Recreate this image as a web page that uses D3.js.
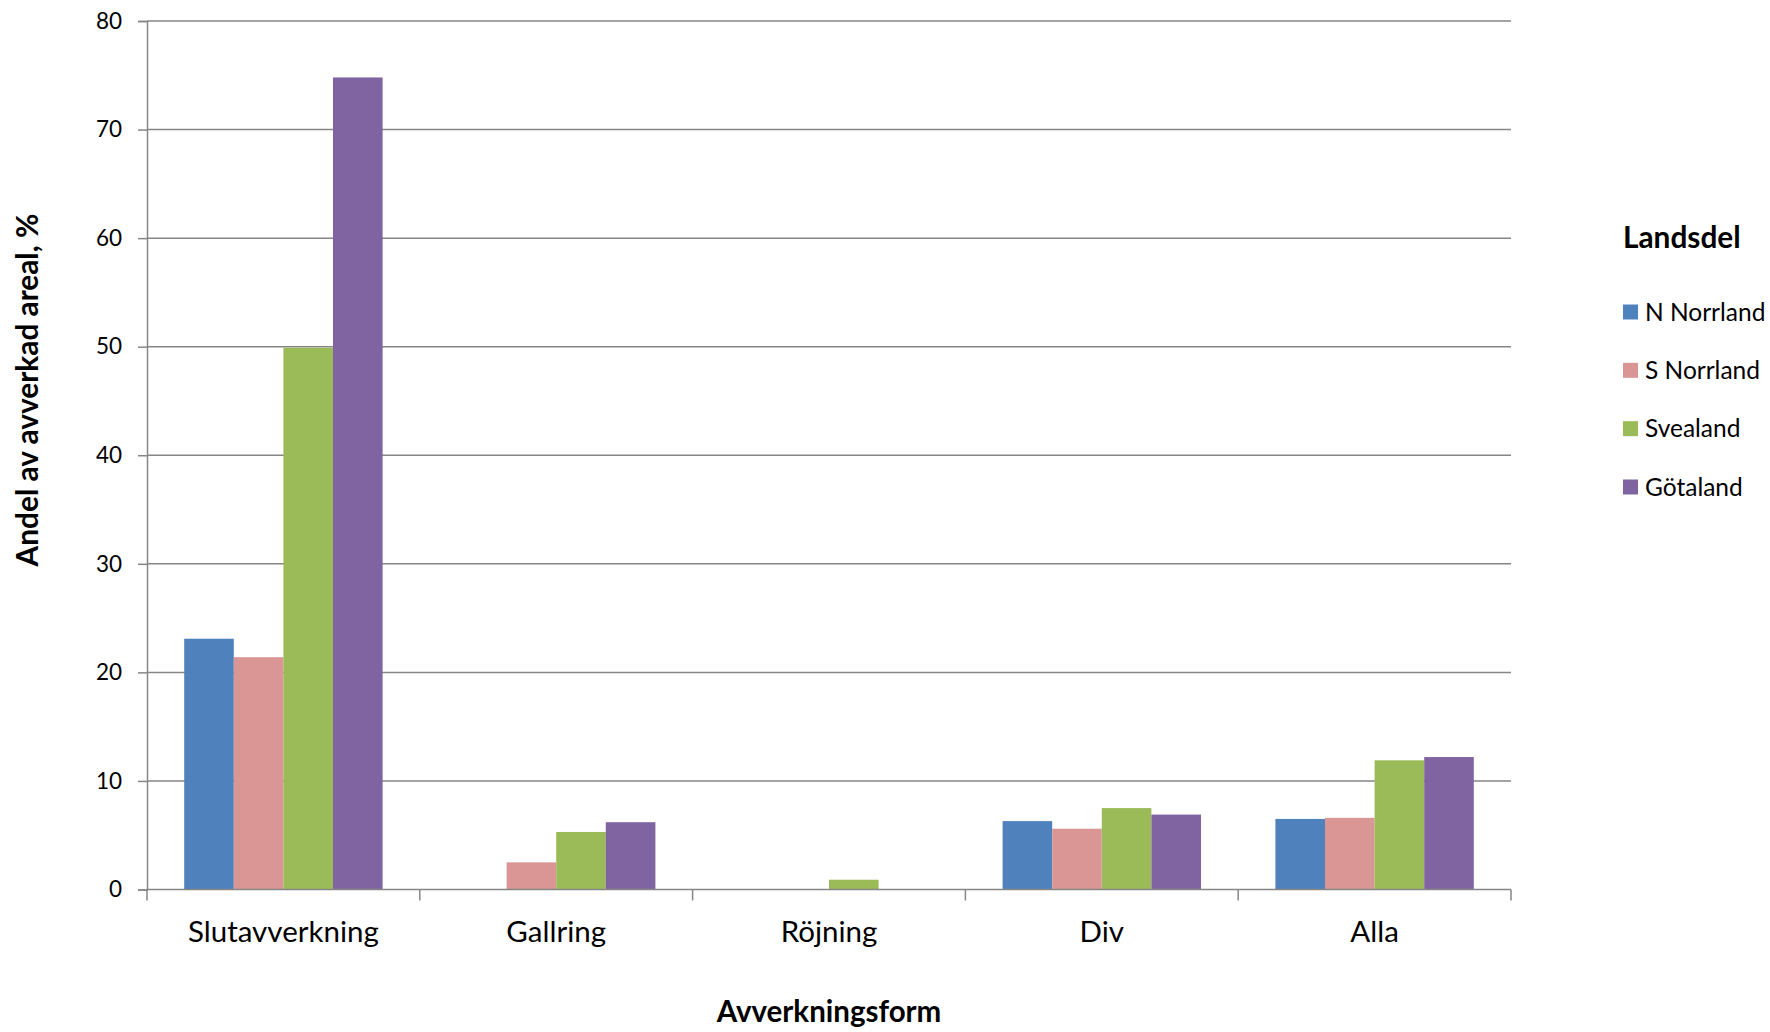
<!DOCTYPE html>
<html>
<head>
<meta charset="utf-8">
<script src="https://cdn.jsdelivr.net/npm/d3@7"></script>
<style>
  html, body { margin: 0; padding: 0; background: #fff; }
  svg { display: block; font-family: Lato, "Open Sans", sans-serif; }
</style>
</head>
<body>
<svg id="chart" width="1770" height="1032"></svg>
<script>
const categories = ["Slutavverkning", "Gallring", "Röjning", "Div", "Alla"];
const seriesNames = ["N Norrland", "S Norrland", "Svealand", "Götaland"];
const nNorrland = [23.1, 0, 0, 6.3, 6.5];
const sNorrland = [21.4, 2.5, 0, 5.6, 6.6];
const svealand  = [49.9, 5.3, 0.9, 7.5, 11.9];
const gotaland  = [74.8, 6.2, 0, 6.9, 12.2];
const yTicks = [0, 10, 20, 30, 40, 50, 60, 70, 80];
const colors = ["#4F81BD", "#D99694", "#9BBB59", "#8064A2"];
const xTitle = "Avverkningsform";
const yTitle = "Andel av avverkad areal, %";
const legendTitle = "Landsdel";

const seriesValues = [nNorrland, sNorrland, svealand, gotaland];

const svg = d3.select("#chart");
const mLeft = 147, mRight = 1511, mTop = 21, mBottom = 889.5;
const axisColor = "#868686";

const x0 = d3.scaleBand().domain(categories).range([mLeft, mRight]).padding(0);
const x1 = d3.scaleBand().domain(seriesNames).range([0, x0.bandwidth()]).paddingInner(0).paddingOuter(0.75);
const y = d3.scaleLinear().domain([0, 80]).range([mBottom, mTop]);

// gridlines
svg.append("g").selectAll("line").data(yTicks.filter(d => d > 0)).join("line")
  .attr("x1", mLeft).attr("x2", mRight)
  .attr("y1", d => y(d)).attr("y2", d => y(d))
  .attr("stroke", axisColor).attr("stroke-width", 1.5);

// bars
const groups = svg.append("g").selectAll("g").data(categories).join("g")
  .attr("transform", d => `translate(${x0(d)},0)`);
groups.selectAll("rect")
  .data((c, i) => seriesNames.map((s, j) => ({ s, j, v: seriesValues[j][i] })).filter(d => d.v > 0))
  .join("rect")
  .attr("x", d => x1(d.s))
  .attr("width", x1.bandwidth())
  .attr("y", d => y(d.v))
  .attr("height", d => y(0) - y(d.v))
  .attr("fill", d => colors[d.j]);

// y axis
const yAxis = d3.axisLeft(y).tickValues(yTicks).tickSize(9).tickPadding(16).tickFormat(d3.format("d"));
const yg = svg.append("g").attr("transform", `translate(${mLeft},0)`).call(yAxis);
yg.select(".domain").attr("stroke", axisColor).attr("stroke-width", 1.5);
yg.selectAll(".tick line").attr("stroke", axisColor).attr("stroke-width", 1.5);
yg.selectAll(".tick text").attr("font-size", 22.5).attr("fill", "#000")
  .attr("font-family", "Lato, sans-serif");

// x axis
const xAxis = d3.axisBottom(x0).tickSize(0).tickPadding(0);
const xg = svg.append("g").attr("transform", `translate(0,${mBottom})`).call(xAxis);
xg.select(".domain").remove();
xg.append("line").attr("x1", mLeft).attr("x2", mRight).attr("y1", 0).attr("y2", 0)
  .attr("stroke", axisColor).attr("stroke-width", 1.5);
const bounds = categories.map(c => x0(c)).concat([mRight]);
xg.selectAll(".bound").data(bounds).join("line").attr("class", "bound")
  .attr("x1", d => d).attr("x2", d => d).attr("y1", 0).attr("y2", 11)
  .attr("stroke", axisColor).attr("stroke-width", 1.5);
xg.selectAll(".tick text").attr("font-size", 29.5).attr("fill", "#000")
  .attr("font-family", "Lato, sans-serif")
  .attr("dy", null).attr("y", 52);

// axis titles
svg.append("text").attr("x", (mLeft + mRight) / 2).attr("y", 1022)
  .attr("text-anchor", "middle").attr("font-weight", "bold").attr("font-size", 29.5)
  .text(xTitle);
svg.append("text").attr("transform", "translate(38,390) rotate(-90)")
  .attr("text-anchor", "middle").attr("font-weight", "bold").attr("font-size", 29.8)
  .text(yTitle);

// legend
const lg = svg.append("g").attr("transform", "translate(1623,0)");
lg.append("text").attr("x", 0).attr("y", 248).attr("font-weight", "bold").attr("font-size", 29.8)
  .text(legendTitle);
const ly = d3.scalePoint().domain(seriesNames).range([312, 487]);
const items = lg.selectAll(".item").data(seriesNames).join("g").attr("class", "item")
  .attr("transform", d => `translate(0,${ly(d)})`);
items.append("rect").attr("x", 0).attr("y", -7.5).attr("width", 15).attr("height", 15)
  .attr("fill", (d, i) => colors[i]);
items.append("text").attr("x", 22).attr("y", 0).attr("dy", "0.36em").attr("font-size", 24.5)
  .text(d => d);
</script>
</body>
</html>
